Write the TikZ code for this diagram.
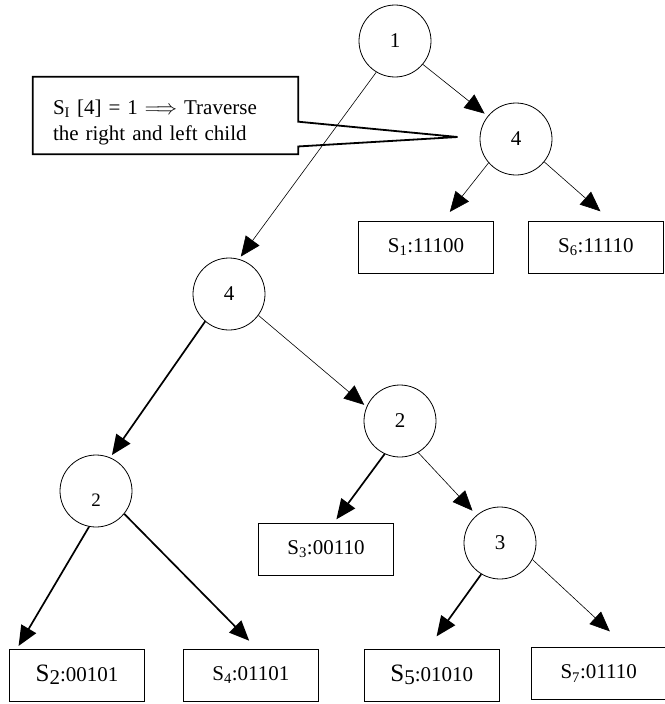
\documentclass[tikz,border=0pt]{standalone}
\usepackage{fontspec}
\setmainfont{Liberation Serif}
\usetikzlibrary{arrows.meta,positioning,calc}
\newcommand{\lrgS}{{\fontsize{25}{25}\selectfont S}}
\tikzset{
  vtx/.style={circle, draw=black, line width=0.8pt, minimum size=72pt, inner sep=0pt},
  leaf/.style={rectangle, draw=black, line width=0.9pt, minimum width=135pt, minimum height=52pt, inner sep=0pt},
  note/.style={rectangle, inner xsep=20pt, text width=225pt, minimum height=77pt, align=left},
  ar/.style={-{Triangle[length=20pt,width=17pt]}, line width=0.6pt},
  arb/.style={-{Triangle[length=20pt,width=17pt]}, line width=1.7pt},
}
\begin{document}
\begin{tikzpicture}[x=1pt, y=-1pt, font=\fontsize{21}{26}\selectfont]
\useasboundingbox (0,0) rectangle (664,704);
% inner nodes
\node[vtx] (n1) at (395,41) {1};
\node[vtx] (n4a) at (516,139) {4};
\node[vtx] (n4b) at (229,294) {4};
\node[vtx] (n2m) at (400,421) {2};
\node[vtx] (n2l) at (96,491) {\fontsize{19}{19}\selectfont\raisebox{-9pt}[13pt][0pt]{2}};
\node[vtx] (n3) at (500,543) {3};
% leaves
\node[leaf] (s1) at (426,247) {S\textsubscript{1}:11100};
\node[leaf, right=34pt of s1] (s6) {S\textsubscript{6}:11110};
\node[leaf] (s3) at (326,549) {S\textsubscript{3}:00110};
\node[leaf] (s2) at (77,675) {\lrgS\raisebox{-3pt}{2}:00101};
\node[leaf, right=38pt of s2] (s4) {S\textsubscript{4}:01101};
\node[leaf, right=45pt of s4] (s5) {\lrgS\raisebox{-3pt}{5}:01010};
\node[leaf, right=31pt of s5, yshift=1.5pt] (s7) {S\textsubscript{7}:01110};
% callout
\node[note] (txt) at (165.5,115.5) {\rule{0pt}{29pt}S\textsubscript{I} [4] = 1 $\Longrightarrow$ Traverse\\the right and left child};
\coordinate (tip) at ([xshift=-22pt,yshift=2pt]n4a.west);
\draw[line width=1.8pt] (txt.north west) -- (txt.north east) -- ($(txt.north east)!0.58!(txt.south east)$) -- (tip)
  -- ($(txt.north east)!0.9!(txt.south east)$) -- (txt.south east) -- (txt.south west) -- cycle;
% edges
\foreach \a/\b/\x/\s in {n1.-40/n4a.141/0pt/4pt, n1.-121/n4b.74/0pt/3pt, n4a.-139/s1.north/17pt/11pt,
    n4a.-39/s6.north/15pt/14pt, n4b.-36/n2m.157/0pt/3pt, n2m.-60/n3.130/0pt/6pt,
    n3.-27/s7.north/28pt/23pt}
  \draw[ar, shorten >=\s] (\a) -- ([xshift=\x]\b);
\foreach \a/\b/\x/\s in {n4b.-131/n2l.67/0pt/3pt, n2l.-101/s2.north west/8pt/3pt,
    n2l.-39/s4.north/6pt/11pt, n2m.-115/s3.north/8pt/4pt,
    n3.-121/s5.north/-4pt/15pt}
  \draw[arb, shorten >=\s] (\a) -- ([xshift=\x]\b);
\end{tikzpicture}
\end{document}
